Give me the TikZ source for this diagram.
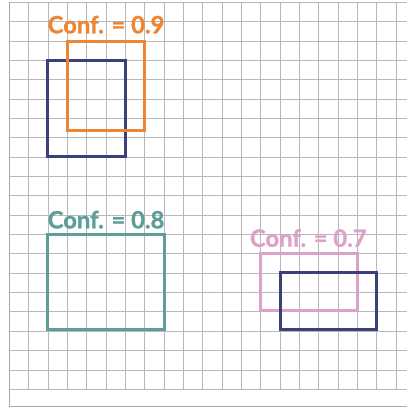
\documentclass[tikz,border=0pt]{standalone}
\usepackage{fontspec}
\setsansfont{Lato}
\newfontfamily\conffont{Lato}[BoldFeatures={FakeBold=1.2}]
\usepackage{tikz}
\usetikzlibrary{positioning}
\definecolor{gline}{HTML}{B8B8B8}
\definecolor{gedge}{HTML}{A8A8A8}
\definecolor{dnavy}{HTML}{3B3F7A}
\definecolor{dorange}{HTML}{EE8533}
\definecolor{dteal}{HTML}{5E9E9A}
\definecolor{dpink}{HTML}{DDA2C9}
\tikzset{
  box/.style={line width=2.2pt,line join=miter},
  conf/.style={font=\conffont\bfseries\fontsize{17.5}{18}\selectfont,inner sep=0pt,anchor=base},
}

\begin{document}
\begin{tikzpicture}[x=0.5cm,y=0.5cm]
\useasboundingbox (-0.48,0.12) rectangle (20.55,-21.17);
% graph paper
\draw[gline,line width=0.7pt,step=0.5cm] (0,-20) grid (20.55,0);
\draw[gedge,line width=0.9pt] (0,0) -- (0,-20.9) -- (20.55,-20.9);
% top left pair
\draw[box,dnavy] (2,-3) rectangle (6,-7.95);
\draw[box,dorange] (3,-2) rectangle (7,-6.6);
\node[conf,text=dorange] (c9) at (5,-1.6) {Conf. = 0.9};
% lone box
\draw[box,dteal] (2,-12) rectangle (8,-16.9);
\node[conf,text=dteal] (c8) at (5,-11.68) {Conf. = 0.8};
% right pair
\draw[box,dpink] (13,-13) rectangle (18,-15.95);
\draw[box,dnavy] (14,-13.95) rectangle (19,-16.9);
\node[conf,text=dpink] (c7) at (15.45,-12.63) {Conf. = 0.7};
\end{tikzpicture}
\end{document}
